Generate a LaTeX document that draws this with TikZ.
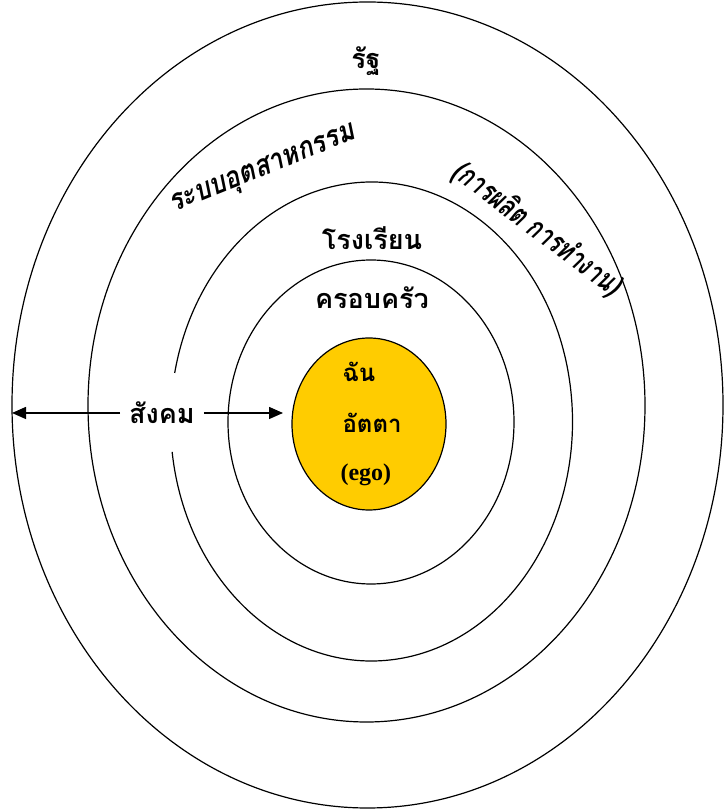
\documentclass[tikz,border=0pt]{standalone}
\usepackage{fontspec}
\setmainfont{Liberation Serif}
\newfontfamily\thaifont[Script=Thai]{Loma}
\usetikzlibrary{arrows.meta,shapes.geometric}
\definecolor{egoyellow}{HTML}{FFCC00}

\begin{document}
\begin{tikzpicture}[
    x=1pt, y=1pt,
    >={Triangle[length=14pt,width=12pt]},
    ring/.style={draw, ellipse, line width=1.2pt, inner sep=0pt, outer sep=0pt},
    thai/.style={font=\thaifont\bfseries\fontsize{27}{32}\selectfont},
    inner/.style={font=\thaifont\bfseries\fontsize{24}{28}\selectfont, anchor=west},
    slant/.style={font=\thaifont\bfseries\itshape\fontsize{30}{34}\selectfont}
]
\useasboundingbox (0,0) rectangle (725,809);

% Elipses
\node[ring, minimum width=711pt, minimum height=806pt] (rat) at (367.5,404) {};
\node[ring, minimum width=557pt, minimum height=633pt] (ind) at (366.5,403.5) {};
\coordinate (sch) at (371.5,387.5);
\draw[line width=1.2pt] ([shift={(187.3:201pt and 239.5pt)}]sch)
    arc[start angle=187.3, end angle=528.3, x radius=201pt, y radius=239.5pt];
\node[ring, minimum width=286pt, minimum height=324pt] (fam) at (371,387) {};
\node[ring, fill=egoyellow, minimum width=154pt, minimum height=172pt] (ego) at (369,385) {};

% Textos
\node[thai] (ratl) at (366,748) {รัฐ};
\node[slant, rotate=22, xscale=0.85] (indl) at (263,638) {ระบบอุตสาหกรรม};
\node[slant, rotate=-37, xscale=0.73] (prodl) at (537,580) {(การผลิต การทำงาน)};
\node[thai] (schl) at (372,571) {โรงเรียน};
\node[thai] (faml) at (372,511) {ครอบครัว};
\node[inner] (me) at (339,437) {ฉัน};
\node[inner] (atta) at (339,386) {อัตตา};
\node[font=\bfseries\fontsize{24}{28}\selectfont, anchor=west] (egol) at (337,334) {(ego)};
\node[thai, inner xsep=9pt] (soc) at (162,396) {สังคม};

% Flechas
\draw[->, line width=1.4pt] (soc) -- (soc -| rat.west);
\draw[->, line width=1.4pt, shorten >=9pt] (soc) -- (soc -| ego.west);

\end{tikzpicture}
\end{document}
